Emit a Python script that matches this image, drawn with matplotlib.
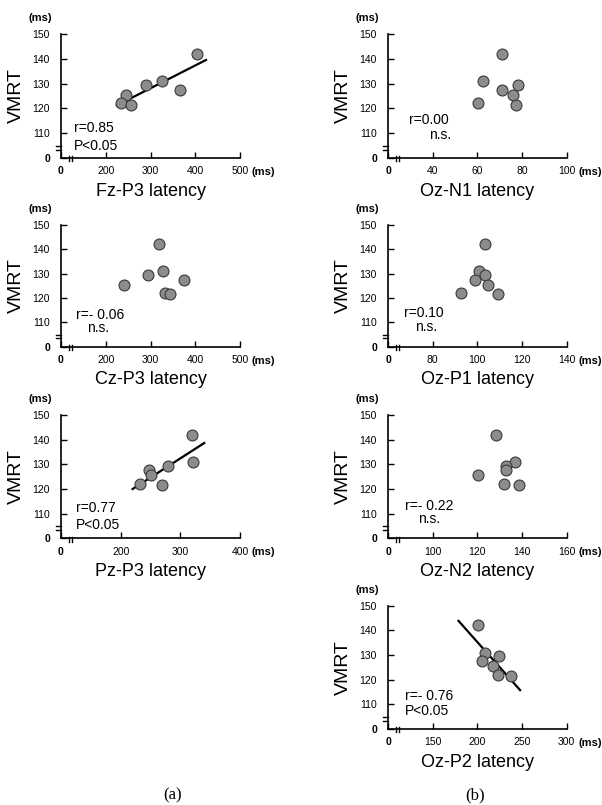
import numpy as np
import matplotlib
matplotlib.use("Agg")
import matplotlib.pyplot as plt

plt.rcParams['font.family'] = ['Liberation Sans', 'DejaVu Sans']

# VMRT of the 7 subjects (ms)
vmrt = [142, 131, 129.5, 127.5, 125.5, 122, 121.5]

# latencies (ms), same subject order as vmrt
fz_p3 = [403, 326, 290, 366, 246, 235, 257]
cz_p3 = [320, 327.5, 294, 375, 241, 333, 343]
pz_p3 = [320, 320.6, 280, 248, 250, 232, 270]
oz_n1 = [71.3, 62.4, 78.4, 71.2, 76.2, 60.4, 77.3]
oz_p1 = [103.3, 100.6, 103.3, 99.2, 104.6, 92.5, 109.4]
oz_n2 = [128.4, 137.1, 133, 133, 120.2, 132.1, 138.9]
oz_p2 = [200.4, 208.3, 224.7, 205.3, 218, 223.6, 237.9]

y_ticks = [100, 110, 120, 130, 140, 150]
y_labels = ['0', '110', '120', '130', '140', '150']

# name, latency, x ticks, x tick labels, stats text, fit range
panels = [
    ('Fz-P3 latency', fz_p3, [100, 200, 300, 400, 500], ['0', '200', '300', '400', '500'],
     ['r=0.85', 'P<0.05'], (225, 424)),
    ('Oz-N1 latency', oz_n1, [20, 40, 60, 80, 100], ['0', '40', '60', '80', '100'],
     ['r=0.00', 'n.s.'], None),
    ('Cz-P3 latency', cz_p3, [100, 200, 300, 400, 500], ['0', '200', '300', '400', '500'],
     ['r=- 0.06', 'n.s.'], None),
    ('Oz-P1 latency', oz_p1, [60, 80, 100, 120, 140], ['0', '80', '100', '120', '140'],
     ['r=0.10', 'n.s.'], None),
    ('Pz-P3 latency', pz_p3, [100, 200, 300, 400], ['0', '200', '300', '400'],
     ['r=0.77', 'P<0.05'], (220, 340)),
    ('Oz-N2 latency', oz_n2, [80, 100, 120, 140, 160], ['0', '100', '120', '140', '160'],
     ['r=- 0.22', 'n.s.'], None),
    ('Oz-P2 latency', oz_p2, [100, 150, 200, 250, 300], ['0', '150', '200', '250', '300'],
     ['r=- 0.76', 'P<0.05'], (179, 248)),
]

# pixel boxes (left, top, right, bottom) of each plot area
boxes = [
    (61, 34, 240, 158), (388, 34, 566.5, 158),
    (61, 225, 240, 346.7), (388, 225, 566.5, 346.7),
    (61, 415, 240, 538.3), (388, 415, 566.5, 538.3),
    (388, 605.7, 566.5, 729),
]
# stats text positions (axes fraction): (x1, y1, x2, y2)
text_pos = [
    (0.073, 0.24, 0.073, 0.095),
    (0.117, 0.31, 0.23, 0.185),
    (0.084, 0.26, 0.144, 0.151),
    (0.089, 0.274, 0.151, 0.16),
    (0.084, 0.243, 0.084, 0.108),
    (0.095, 0.265, 0.169, 0.158),
    (0.095, 0.267, 0.095, 0.148),
]

W, H = 602, 805
fig = plt.figure(figsize=(W / 100, H / 100), dpi=100)

for (name, lat, xt, xl, stats, fit), (l, t, r, b), tp in zip(panels, boxes, text_pos):
    ax = fig.add_axes([l / W, 1 - b / H, (r - l) / W, (b - t) / H])
    ax.scatter(lat, vmrt, s=62, c='#8c8c8c', edgecolors='#3a3a3a', linewidths=0.8, zorder=3)
    if fit is not None:
        k, c0 = np.polyfit(lat, vmrt, 1)
        fx = np.array(fit)
        ax.plot(fx, k * fx + c0, color='black', lw=1.6, zorder=2)

    ax.set_xlim(xt[0], xt[-1])
    ax.set_ylim(100, 150)
    ax.set_xticks(xt)
    ax.set_xticklabels(xl)
    ax.set_yticks(y_ticks)
    ax.set_yticklabels(y_labels)
    ax.xaxis.get_ticklabels()[0].set_fontweight('bold')
    ax.yaxis.get_ticklabels()[0].set_fontweight('bold')
    ax.tick_params(direction='in', length=4, width=1, labelsize=7.5, color='black')
    ax.tick_params(axis='y', pad=8)
    ax.tick_params(axis='x', pad=6)
    for s in ('top', 'right'):
        ax.spines[s].set_visible(False)
    for s in ('left', 'bottom'):
        ax.spines[s].set_linewidth(1.2)

    ax.set_ylabel('VMRT', fontsize=14)
    ax.yaxis.set_label_coords(-0.25, 0.5)
    ax.yaxis.label.set_va('center')
    ax.set_xlabel(name, fontsize=13)
    ax.xaxis.set_label_coords(0.5, -0.27)
    ax.xaxis.label.set_va('center')

    ax.text(-0.117, 1.13, '(ms)', transform=ax.transAxes, ha='center', va='center',
            fontsize=8, fontweight='bold')
    ax.text(1.065, -0.115, '(ms)', transform=ax.transAxes, ha='left', va='center',
            fontsize=8, fontweight='bold')

    ax.text(tp[0], tp[1], stats[0], transform=ax.transAxes, ha='left', va='center', fontsize=10)
    ax.text(tp[2], tp[3], stats[1], transform=ax.transAxes, ha='left', va='center', fontsize=10)

    # axis break marks
    for yy in (0.068, 0.097):
        ax.plot([-0.028, 0], [yy, yy], transform=ax.transAxes, color='black', lw=1, clip_on=False)
    for xx in (0.045, 0.064):
        ax.plot([xx, xx], [0.013, -0.028], transform=ax.transAxes, color='black', lw=1, clip_on=False)

fig.text(173 / W, 1 - 795 / H, '(a)', ha='center', va='center', fontsize=12, family='Liberation Serif')
fig.text(475 / W, 1 - 795 / H, '(b)', ha='center', va='center', fontsize=12, family='Liberation Serif')

fig.savefig('out.png', dpi=100)
